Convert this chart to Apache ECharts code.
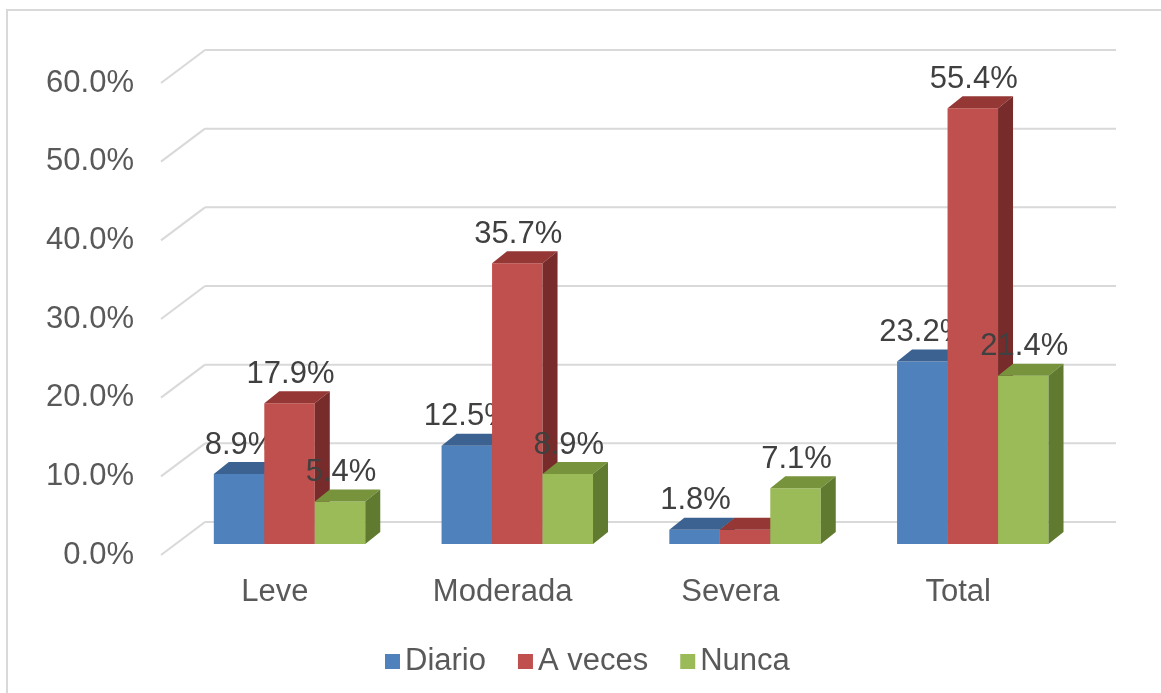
<!DOCTYPE html>
<html>
<head>
<meta charset="utf-8">
<script src="https://cdn.jsdelivr.net/npm/echarts@6/dist/echarts.min.js"></script>
<style>
  html, body { margin: 0; padding: 0; background: #fff; }
  #main { width: 1161px; height: 693px; }
</style>
</head>
<body>
<div id="main"></div>
<script>
var categories = ['Leve', 'Moderada', 'Severa', 'Total'];
var seriesNames = ['Diario', 'A veces', 'Nunca'];
var diario = [8.9, 12.5, 1.8, 23.2];
var aVeces = [17.9, 35.7, 1.8, 55.4];
var nunca = [5.4, 8.9, 7.1, 21.4];
var yTicks = [0, 10, 20, 30, 40, 50, 60];
// etiquetas que no aparecen en el original: [serie, categoria]
var hiddenLabels = [[1, 2]];

// colores de cara frontal, superior y lateral
var faceColors = [
    ['#4f81bd', '#3c6291', '#2f4d72'],
    ['#c0504d', '#953735', '#772c2b'],
    ['#9bbb59', '#77933c', '#607a30']
];

var WALL_DX = 44, WALL_DY = -33;          // fondo de la pared
var SHIFT_X = WALL_DX / 3, SHIFT_Y = WALL_DY / 3;
var DEPTH_X = 15, DEPTH_Y = -12;          // profundidad de cada barra
var textColor = '#595959';
var labelColor = '#404040';
var font = 'Liberation Sans, Arial, sans-serif';

function isHidden(si, ci) {
    return hiddenLabels.some(function (h) { return h[0] === si && h[1] === ci; });
}

function wallItem(params, api) {
    var band = api.size([1, 0])[0];
    var p = api.coord([0, api.value(0)]);
    var last = api.coord([categories.length - 1, api.value(0)]);
    var xl = p[0] - band / 2;
    var xr = last[0] + band / 2;
    var style = { stroke: '#d9d9d9', lineWidth: 2, fill: null };
    return {
        type: 'group',
        children: [
            { type: 'line', shape: { x1: xl, y1: p[1], x2: xl + WALL_DX, y2: p[1] + WALL_DY }, style: style },
            { type: 'line', shape: { x1: xl + WALL_DX, y1: p[1] + WALL_DY, x2: xr + WALL_DX, y2: p[1] + WALL_DY }, style: style }
        ]
    };
}

function makeBarItem(si) {
    return function (params, api) {
        var band = api.size([1, 0])[0];
        var bw = band * 0.665 / 3;
        var val = api.value(1);
        var c = api.coord([api.value(0), val]);
        var b = api.coord([api.value(0), 0]);
        var x0 = c[0] - 1.5 * bw + si * bw + SHIFT_X;
        var yt = c[1] + SHIFT_Y;
        var yb = b[1] + SHIFT_Y;
        var col = faceColors[si];
        var children = [
            { type: 'polygon', shape: { points: [[x0, yt], [x0 + bw, yt], [x0 + bw, yb], [x0, yb]] }, style: { fill: col[0] } },
            { type: 'polygon', shape: { points: [[x0, yt], [x0 + bw, yt], [x0 + bw + DEPTH_X, yt + DEPTH_Y], [x0 + DEPTH_X, yt + DEPTH_Y]] }, style: { fill: col[1] } },
            { type: 'polygon', shape: { points: [[x0 + bw, yt], [x0 + bw + DEPTH_X, yt + DEPTH_Y], [x0 + bw + DEPTH_X, yb + DEPTH_Y], [x0 + bw, yb]] }, style: { fill: col[2] } }
        ];
        if (!isHidden(si, params.dataIndex)) {
            children.push({
                type: 'text',
                style: {
                    x: x0 + bw / 2 + 1, y: yt - 29,
                    text: val.toFixed(1) + '%',
                    align: 'center', verticalAlign: 'middle',
                    fill: labelColor, fontSize: 31, fontFamily: font
                },
                z2: 10
            });
        }
        return { type: 'group', children: children };
    };
}

var allValues = [diario, aVeces, nunca];
var series = [{
    name: 'wall',
    type: 'custom',
    renderItem: wallItem,
    data: yTicks.map(function (v) { return [v]; }),
    encode: { y: 0 },
    silent: true,
    z: 1
}];
seriesNames.forEach(function (name, si) {
    series.push({
        name: name,
        type: 'custom',
        renderItem: makeBarItem(si),
        itemStyle: { color: faceColors[si][0] },
        data: allValues[si].map(function (v, i) { return [i, v]; }),
        encode: { x: 0, y: 1 },
        z: 2 + si
    });
});

var myChart = echarts.init(document.getElementById('main'));
var option = {
    animation: false,
    backgroundColor: '#fff',
    graphic: [{
        type: 'rect',
        shape: { x: 7, y: 10, width: 1170, height: 700 },
        style: { fill: null, stroke: '#d9d9d9', lineWidth: 2 }
    }],
    legend: {
        data: seriesNames,
        left: 380,
        top: 641,
        icon: 'rect',
        itemWidth: 15,
        itemHeight: 15,
        itemGap: 32,
        textStyle: { color: textColor, fontSize: 31, fontFamily: font }
    },
    grid: { left: 161, right: 89, top: 83, bottom: 138 },
    xAxis: {
        type: 'category',
        data: categories,
        axisLine: { show: false },
        axisTick: { show: false },
        axisLabel: { color: textColor, fontSize: 31, fontFamily: font, margin: 22 }
    },
    yAxis: {
        type: 'value',
        min: 0,
        max: 60,
        interval: 10,
        splitLine: { show: false },
        axisLine: { show: false },
        axisTick: { show: false },
        axisLabel: {
            color: textColor, fontSize: 31, fontFamily: font, margin: 27,
            formatter: function (v) { return v.toFixed(1) + '%'; }
        }
    },
    series: series
};
myChart.setOption(option);
</script>
</body>
</html>
